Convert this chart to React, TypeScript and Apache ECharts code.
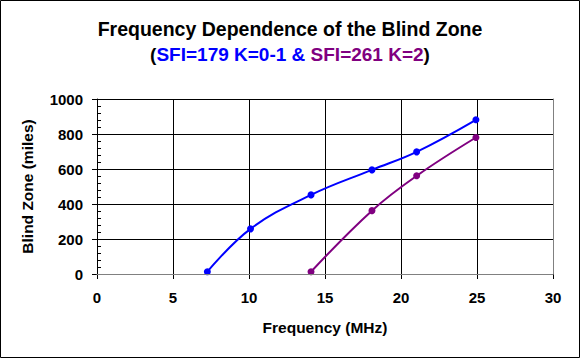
import React, { useEffect, useRef } from "react";
import * as echarts from "echarts";

const freqBlue = [7.26, 10.1, 14.08, 18.09, 21.03, 24.93];
const zoneBlue = [13, 258, 452, 595, 698, 881];
const freqPurple = [14.08, 18.09, 21.03, 24.93];
const zonePurple = [13, 362, 561, 780];

const titleText = "Frequency Dependence of the Blind Zone";
const subBlue = "SFI=179 K=0-1 &";
const subPurple = "SFI=261 K=2";
const xName = "Frequency (MHz)";
const yName = "Blind Zone (miles)";

const FONT = "'Liberation Sans', Arial, sans-serif";

export default function App() {
  const ref = useRef<HTMLDivElement>(null);
  useEffect(() => {
    document.body.style.margin = "0";
    const chart = echarts.init(ref.current!, null, { renderer: "svg" });
    const richBase = { fontSize: 19, fontWeight: "bold" as const, fontFamily: FONT };
    chart.setOption({
      animation: false,
      backgroundColor: "#ffffff",
      title: [
        {
          text: titleText,
          left: "center",
          top: 14,
          textStyle: { fontSize: 19.5, fontWeight: "bold", color: "#000", fontFamily: FONT },
        },
        {
          text: `{k|(}{b|${subBlue}} {p|${subPurple}}{k|)}`,
          left: "center",
          top: 40,
          textStyle: {
            ...richBase,
            rich: {
              k: { ...richBase, color: "#000000" },
              b: { ...richBase, color: "#0000ff" },
              p: { ...richBase, color: "#800080" },
            },
          },
        },
      ],
      graphic: [
        {
          type: "rect",
          silent: true,
          shape: { x: 0.5, y: 0.5, width: 579, height: 357 },
          style: { fill: "none", stroke: "#000", lineWidth: 1 },
          z: 100,
        },
      ],
      grid: { left: 97, right: 27, top: 99, bottom: 84, show: false },
      xAxis: [
        {
          type: "value",
          min: 0,
          max: 30,
          interval: 5,
          position: "bottom",
          axisLine: { show: true, lineStyle: { color: "#000", width: 1 } },
          axisTick: { show: true, length: 5, lineStyle: { color: "#000", width: 1 } },
          axisLabel: { fontSize: 15, fontWeight: "bold", color: "#000", margin: 16, fontFamily: FONT },
          splitLine: { show: true, lineStyle: { color: "#000", width: 1 } },
          name: xName,
          nameLocation: "middle",
          nameGap: 45,
          nameTextStyle: { fontSize: 15.5, fontWeight: "bold", color: "#000", fontFamily: FONT },
        },
        {
          type: "value",
          min: 0,
          max: 30,
          position: "top",
          z: 5,
          axisLine: { show: true, lineStyle: { color: "#808080", width: 1 } },
          axisTick: { show: false },
          axisLabel: { show: false },
          splitLine: { show: false },
        },
      ],
      yAxis: [
        {
          type: "value",
          min: 0,
          max: 1000,
          interval: 200,
          position: "left",
          axisLine: { show: true, lineStyle: { color: "#000", width: 1 } },
          axisTick: { show: true, length: 5, lineStyle: { color: "#000", width: 1 } },
          axisLabel: {
            fontSize: 15,
            fontWeight: "bold",
            color: "#000",
            margin: 14,
            fontFamily: FONT,
            formatter: (v: number) => String(v),
          },
          splitLine: { show: true, lineStyle: { color: "#000", width: 1 } },
          name: yName,
          nameLocation: "middle",
          nameGap: 62,
          nameRotate: 90,
          nameTextStyle: { fontSize: 15.5, fontWeight: "bold", color: "#000", fontFamily: FONT },
        },
        {
          type: "value",
          min: 0,
          max: 1000,
          interval: 40,
          position: "left",
          axisLine: { show: false },
          axisTick: { show: true, inside: true, length: 4, lineStyle: { color: "#000", width: 1 } },
          axisLabel: { show: false },
          splitLine: { show: false },
        },
        {
          type: "value",
          min: 0,
          max: 1000,
          position: "right",
          z: 5,
          axisLine: { show: true, lineStyle: { color: "#808080", width: 1 } },
          axisTick: { show: false },
          axisLabel: { show: false },
          splitLine: { show: false },
        },
      ],
      series: [
        {
          name: subBlue,
          type: "line",
          xAxisIndex: 0,
          yAxisIndex: 0,
          data: freqBlue.map((f, i) => [f, zoneBlue[i]]),
          smooth: 0.4,
          symbol: "circle",
          symbolSize: 7,
          lineStyle: { color: "#0000ff", width: 2 },
          itemStyle: { color: "#0000ff" },
          z: 3,
        },
        {
          name: subPurple,
          type: "line",
          xAxisIndex: 0,
          yAxisIndex: 0,
          data: freqPurple.map((f, i) => [f, zonePurple[i]]),
          smooth: 0.4,
          symbol: "circle",
          symbolSize: 7,
          lineStyle: { color: "#800080", width: 2 },
          itemStyle: { color: "#800080" },
          z: 3,
        },
      ],
    });
    return () => chart.dispose();
  }, []);
  return <div ref={ref} style={{ width: 580, height: 358 }} />;
}
